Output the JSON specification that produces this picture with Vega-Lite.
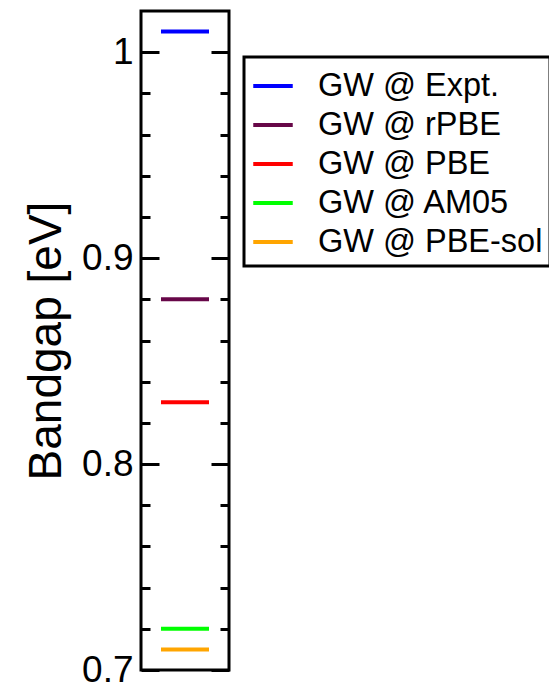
{
  "$schema": "https://vega.github.io/schema/vega-lite/v6.json",
  "width": 88,
  "height": 659,
  "autosize": "none",
  "padding": {"left": 141, "top": 11, "right": 320, "bottom": 20},
  "background": "white",
  "config": {
    "font": "Liberation Sans",
    "view": {"stroke": "black", "strokeWidth": 3},
    "axis": {"domain": false, "grid": false, "tickColor": "black", "tickWidth": 3, "labelColor": "black", "labelFont": "Liberation Sans", "titleFont": "Liberation Sans", "titleColor": "black", "labelOverlap": false, "labelBound": false, "labelFlush": false},
    "legend": {"strokeColor": "black", "strokeWidth": 3, "labelFont": "Liberation Sans", "labelColor": "black"}
  },
  "data": {
    "values": [
      {"method": "GW @ Expt.", "gap": 1.01},
      {"method": "GW @ rPBE", "gap": 0.88},
      {"method": "GW @ PBE", "gap": 0.83},
      {"method": "GW @ AM05", "gap": 0.72},
      {"method": "GW @ PBE-sol", "gap": 0.71}
    ]
  },
  "layer": [
    {
      "mark": {"type": "rule", "strokeWidth": 4},
      "encoding": {
        "y": {
          "field": "gap",
          "type": "quantitative",
          "scale": {"domain": [0.7, 1.02], "nice": false, "zero": false},
          "axis": {
            "orient": "left",
            "title": "Bandgap [eV]",
            "titleFontSize": 46,
            "titleFontWeight": "normal",
            "titlePadding": 11,
            "values": [0.7, 0.72, 0.74, 0.76, 0.78, 0.8, 0.82, 0.84, 0.86, 0.88, 0.9, 0.92, 0.94, 0.96, 0.98, 1.0],
            "tickSize": {"condition": {"test": "abs(datum.value*10 - round(datum.value*10)) < 0.001", "value": -18}, "value": -9},
            "labelExpr": "abs(datum.value*10 - round(datum.value*10)) < 0.001 ? (datum.value > 0.99 ? '1' : format(datum.value, '.1f')) : ''",
            "labelFontSize": 37,
            "labelPadding": 26
          }
        },
        "x": {"datum": 2.5, "scale": {"domain": [0, 11]}, "axis": null},
        "x2": {"datum": 8.5},
        "color": {
          "field": "method",
          "type": "nominal",
          "scale": {
            "domain": ["GW @ Expt.", "GW @ rPBE", "GW @ PBE", "GW @ AM05", "GW @ PBE-sol"],
            "range": ["#0000ff", "#670748", "#ff0000", "#00ff00", "#ffa500"]
          },
          "legend": {
            "orient": "none",
            "legendX": 103,
            "legendY": 46,
            "title": null,
            "symbolType": "stroke",
            "symbolStrokeWidth": 4,
            "symbolSize": 1560,
            "labelFontSize": 32.5,
            "labelOffset": 23,
            "labelLimit": 400,
            "rowPadding": 0,
            "padding": 7
          }
        }
      }
    },
    {
      "mark": {"type": "rule", "opacity": 0},
      "encoding": {
        "y": {
          "field": "gap",
          "type": "quantitative",
          "axis": {
            "orient": "right",
            "title": null,
            "labels": false,
            "values": [0.7, 0.72, 0.74, 0.76, 0.78, 0.8, 0.82, 0.84, 0.86, 0.88, 0.9, 0.92, 0.94, 0.96, 0.98, 1.0],
            "tickSize": {"condition": {"test": "abs(datum.value*10 - round(datum.value*10)) < 0.001", "value": -18}, "value": -9}
          }
        }
      }
    }
  ],
  "resolve": {"axis": {"y": "independent"}}
}
